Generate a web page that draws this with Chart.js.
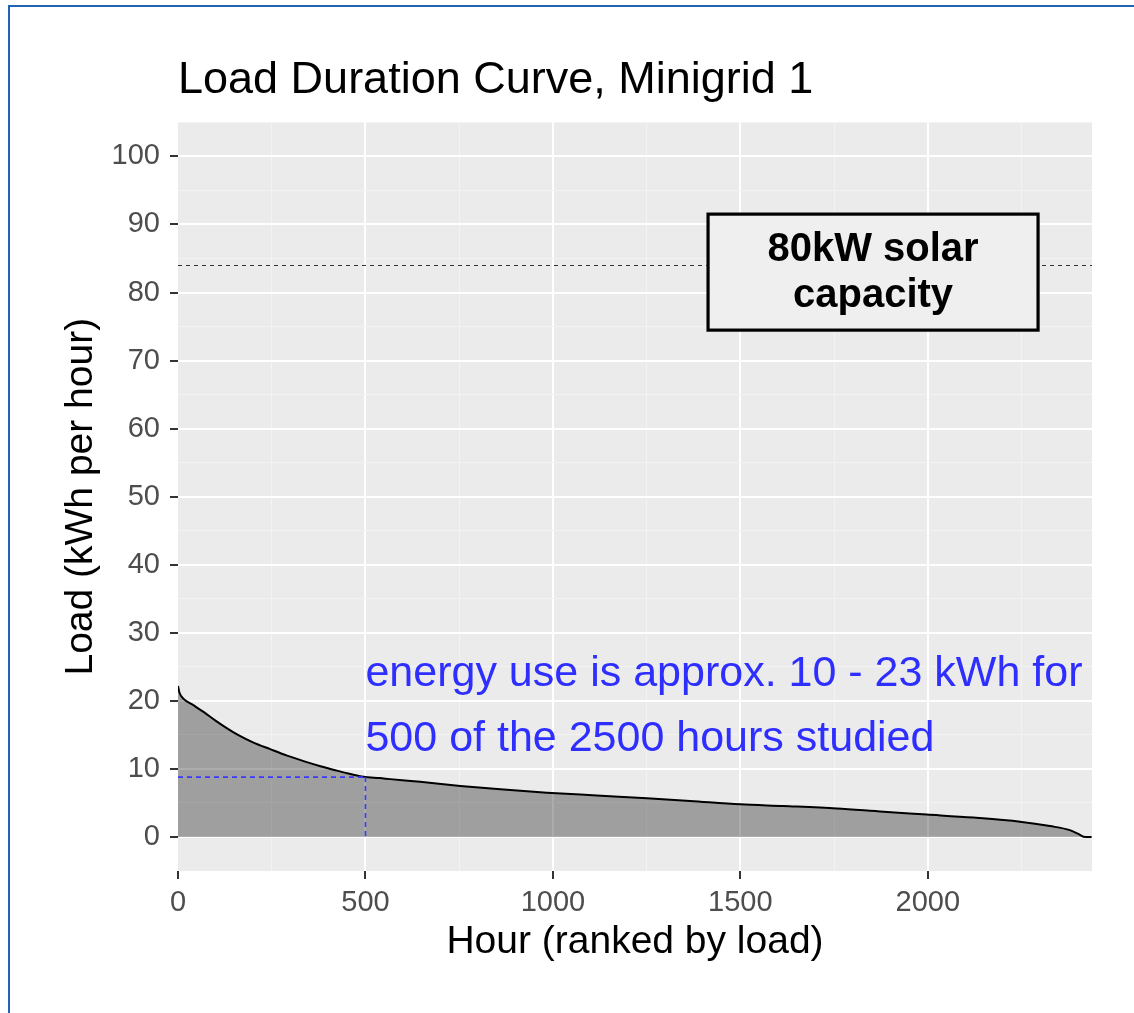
<!DOCTYPE html>
<html><head><meta charset="utf-8">
<script src="https://cdn.jsdelivr.net/npm/chart.js@4.4.1/dist/chart.umd.min.js"></script>
<style>
html,body{margin:0;padding:0;background:#fff;}
#wrap{position:relative;width:1134px;height:1013px;overflow:hidden;background:#fff;}
#frame{position:absolute;left:8px;top:5px;width:1200px;height:1100px;border-left:2px solid #1f64b6;border-top:2px solid #1f64b6;pointer-events:none;}
canvas{position:absolute;left:0;top:0;}
</style></head><body>
<div id="wrap"><canvas id="c" width="1134" height="1013"></canvas><div id="frame"></div></div>
<script>
// ---- data ----
const hours = [0, 4, 15, 40, 70, 100, 130, 160, 200, 246, 291, 335, 380, 424, 460, 495, 539, 566, 646, 753, 860, 984, 1117, 1251, 1366, 1500, 1615, 1757, 1882, 1997, 2122, 2246, 2326, 2379, 2406, 2415, 2437];
const loads = [22.2, 21.2, 20.3, 19.4, 18.3, 17.1, 16.0, 15.0, 13.9, 12.9, 11.95, 11.15, 10.4, 9.75, 9.25, 8.85, 8.65, 8.5, 8.1, 7.5, 7.0, 6.5, 6.1, 5.7, 5.3, 4.8, 4.55, 4.2, 3.7, 3.3, 2.85, 2.25, 1.6, 1.0, 0.3, 0.05, 0.0];
const xTickLabels = [0, 500, 1000, 1500, 2000];
const yTickLabels = [0, 10, 20, 30, 40, 50, 60, 70, 80, 90, 100];
const solarCapacity = 84;
const solarLabelLines = ["80kW solar", "capacity"];
const solarLabelHour = 1854;
const solarLabelLoad = 83;
const markerHour = 500;
const markerLoad = 8.8;
const noteLines = ["energy use is approx. 10 - 23 kWh for", "500 of the 2500 hours studied"];
const noteHour = 500;
const noteBaselineLoads = [22.17, 12.6];
const xMax = 2438;

const FONT = "'Liberation Sans', Arial, sans-serif";

function stepTicks(from, to, step) {
  const out = [];
  for (let v = from; v <= to + 1e-9; v += step) out.push({value: v});
  return out;
}

const panelBg = {
  id: 'panelBg',
  beforeDraw(chart) {
    const {ctx, chartArea: a} = chart;
    ctx.save();
    ctx.fillStyle = '#ebebeb';
    ctx.fillRect(a.left, a.top, a.right - a.left, a.bottom - a.top);
    ctx.restore();
  }
};

const annotations = {
  id: 'annotations',
  afterDatasetsDraw(chart) {
    const {ctx, chartArea: a, scales: {x, y}} = chart;
    ctx.save();
    // capacity dashed line
    const yc = Math.round(y.getPixelForValue(solarCapacity)) + 0.5;
    ctx.strokeStyle = '#333333';
    ctx.lineWidth = 1;
    ctx.setLineDash([4, 4]);
    ctx.beginPath(); ctx.moveTo(a.left, yc); ctx.lineTo(a.right, yc); ctx.stroke();
    // blue dashed guides
    const xm = x.getPixelForValue(markerHour), ym = y.getPixelForValue(markerLoad), y0 = y.getPixelForValue(0);
    ctx.strokeStyle = '#3a3aff';
    ctx.lineWidth = 1.6;
    ctx.setLineDash([5, 4]);
    ctx.beginPath(); ctx.moveTo(a.left, ym); ctx.lineTo(xm, ym); ctx.stroke();
    ctx.beginPath(); ctx.moveTo(xm, ym); ctx.lineTo(xm, y0); ctx.stroke();
    ctx.setLineDash([]);
    // label box
    const cx = x.getPixelForValue(solarLabelHour), cy = y.getPixelForValue(solarLabelLoad);
    const bw = 330, bh = 116;
    ctx.fillStyle = '#efefef';
    ctx.fillRect(cx - bw / 2, cy - bh / 2, bw, bh);
    ctx.strokeStyle = '#000000';
    ctx.lineWidth = 3.2;
    ctx.strokeRect(cx - bw / 2, cy - bh / 2, bw, bh);
    ctx.fillStyle = '#000000';
    ctx.font = "bold 40px " + FONT;
    ctx.textAlign = 'center';
    ctx.textBaseline = 'middle';
    ctx.fillText(solarLabelLines[0], cx, cy - 22);
    ctx.fillText(solarLabelLines[1], cx, cy + 24);
    // blue note
    ctx.fillStyle = '#2e2eff';
    ctx.font = "43px " + FONT;
    ctx.textAlign = 'left';
    ctx.textBaseline = 'alphabetic';
    const nx = x.getPixelForValue(noteHour);
    noteLines.forEach((t, i) => ctx.fillText(t, nx, y.getPixelForValue(noteBaselineLoads[i])));
    ctx.restore();
  }
};

new Chart(document.getElementById('c'), {
  type: 'line',
  data: {
    datasets: [{
      data: hours.map((h, i) => ({x: h, y: loads[i]})),
      borderColor: '#000000',
      borderWidth: 2,
      backgroundColor: 'rgba(0,0,0,0.32)',
      fill: 'origin',
      pointRadius: 0,
      cubicInterpolationMode: 'monotone'
    }]
  },
  options: {
    responsive: false,
    animation: false,
    devicePixelRatio: 1,
    layout: {padding: {left: 0, right: 42, top: 0, bottom: 0}},
    plugins: {
      legend: {display: false},
      tooltip: {enabled: false},
      title: {
        display: true,
        text: 'Load Duration Curve, Minigrid 1',
        align: 'start',
        fullSize: false,
        color: '#000000',
        font: {family: FONT, size: 45, weight: 'normal'},
        padding: {top: 54, bottom: 14.4}
      }
    },
    scales: {
      x: {
        type: 'linear',
        min: 0, max: xMax,
        afterFit(s) { s.height = 142; },
        afterBuildTicks(s) { s.ticks = stepTicks(0, xMax, 250); },
        border: {display: false},
        grid: {
          tickLength: 8,
          color: c => {
            const v = c.tick ? c.tick.value : -1;
            if (v <= 0 || v >= xMax) return 'rgba(0,0,0,0)';
            return v % 500 === 0 ? '#ffffff' : '#f3f3f3';
          },
          lineWidth: c => (c.tick && c.tick.value % 500 === 0) ? 2 : 1,
          tickColor: c => (c.tick && xTickLabels.includes(c.tick.value)) ? '#333333' : 'rgba(0,0,0,0)',
          tickWidth: 2
        },
        ticks: {
          autoSkip: false,
          maxRotation: 0,
          padding: 7,
          color: '#4d4d4d',
          font: {family: FONT, size: 29},
          callback: v => xTickLabels.includes(v) ? String(v) : ''
        },
        title: {
          display: true,
          text: 'Hour (ranked by load)',
          color: '#000000',
          font: {family: FONT, size: 39},
          padding: {top: 0, bottom: 47}
        }
      },
      y: {
        type: 'linear',
        min: -5, max: 105,
        afterFit(s) { s.width = 178; },
        afterBuildTicks(s) { s.ticks = stepTicks(-5, 105, 5); },
        border: {display: false},
        grid: {
          tickLength: 8,
          color: c => {
            const v = c.tick ? c.tick.value : -5;
            if (v <= -5 || v >= 105) return 'rgba(0,0,0,0)';
            return yTickLabels.includes(v) ? '#ffffff' : '#f3f3f3';
          },
          lineWidth: c => (c.tick && c.tick.value % 10 === 0) ? 2 : 1,
          tickColor: c => (c.tick && yTickLabels.includes(c.tick.value)) ? '#333333' : 'rgba(0,0,0,0)',
          tickWidth: 2
        },
        ticks: {
          autoSkip: false,
          padding: 10,
          color: '#4d4d4d',
          font: {family: FONT, size: 29},
          callback: v => yTickLabels.includes(v) ? String(v) : ''
        },
        title: {
          display: true,
          text: 'Load (kWh per hour)',
          color: '#000000',
          font: {family: FONT, size: 39},
          padding: {top: 58, bottom: 0}
        }
      }
    }
  },
  plugins: [panelBg, annotations]
});
</script>
</body></html>
